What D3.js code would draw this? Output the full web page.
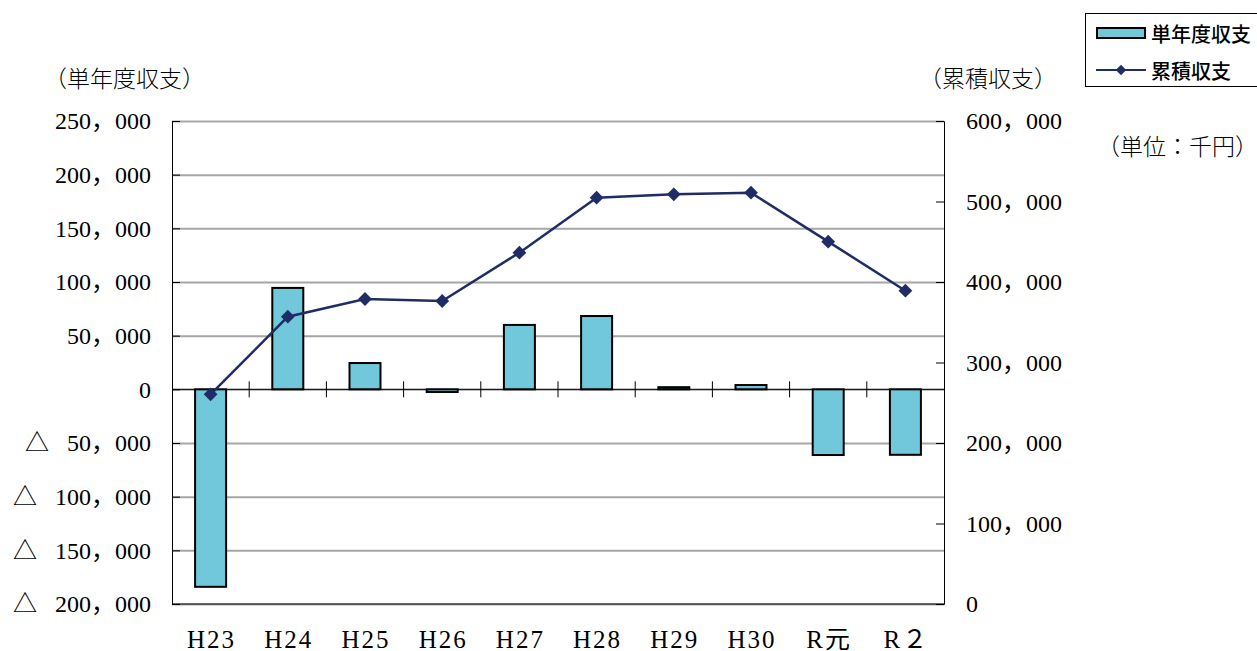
<!DOCTYPE html>
<html>
<head>
<meta charset="utf-8">
<script src="https://cdn.jsdelivr.net/npm/d3@7"></script>
<style>
  html, body { margin: 0; padding: 0; background: #fff; }
  svg { display: block; }
  .num { font-family: "Liberation Serif", "Noto Sans CJK JP", serif; font-size: 24px; fill: #000; }
  .cat { font-family: "Liberation Serif", "Noto Sans CJK JP", serif; font-size: 25px; letter-spacing: 2px; fill: #000; }
  .jp { font-family: "Noto Sans CJK JP", sans-serif; font-size: 23px; font-weight: 300; fill: #000; }
  .leg { font-family: "Noto Sans CJK JP", sans-serif; font-size: 20px; font-weight: 500; fill: #000; }
</style>
</head>
<body>
<svg id="chart" width="1257" height="651"></svg>
<script>
// Fiscal years
const categories = ["H23", "H24", "H25", "H26", "H27", "H28", "H29", "H30", "R元", "R２"];
// Single-year balance (thousand yen), left axis
const annualBalance = [-184000, 94500, 24500, -2500, 60000, 68300, 2000, 4000, -61200, -61000];
// Cumulative balance (thousand yen), right axis
const cumulativeBalance = [260500, 356900, 378900, 376400, 436400, 504700, 508900, 510900, 450100, 389200];
// Axis tick values
const leftTicks = [250000, 200000, 150000, 100000, 50000, 0, -50000, -100000, -150000, -200000];
const rightTicks = [600000, 500000, 400000, 300000, 200000, 100000, 0];

const svg = d3.select("#chart");
const plot = { left: 172, right: 944, top: 121, bottom: 604 };

const x = d3.scaleBand().domain(categories).range([plot.left, plot.right]);
const yL = d3.scaleLinear().domain([-200000, 250000]).range([plot.bottom, plot.top]);
const yR = d3.scaleLinear().domain([0, 600000]).range([plot.bottom, plot.top]);

// Full-width thousands separator; negatives carry the triangle mark
const fmtNum = v => d3.format(",")(Math.abs(v)).replace(/,/g, "，");
const fmtLeft = v => v < 0 ? "△\u2002 " + fmtNum(v) : fmtNum(v);

// Horizontal gridlines
svg.append("g")
  .attr("transform", `translate(${plot.left},0)`)
  .call(d3.axisLeft(yL).tickValues(leftTicks).tickSize(-(plot.right - plot.left)).tickFormat(""))
  .call(g => g.select(".domain").remove())
  .call(g => g.selectAll(".tick line").attr("stroke", "#a6a6a6").attr("stroke-width", 2));

// Bars
const barW = 31;
svg.append("g").selectAll("rect")
  .data(annualBalance)
  .join("rect")
  .attr("x", (d, i) => x(categories[i]) + x.bandwidth() / 2 - barW / 2)
  .attr("width", barW)
  .attr("y", d => Math.min(yL(d), yL(0)))
  .attr("height", d => Math.abs(yL(d) - yL(0)))
  .attr("fill", "#70c8da")
  .attr("stroke", "#000")
  .attr("stroke-width", 2);

// Zero line with category separators
svg.append("line")
  .attr("x1", plot.left).attr("x2", plot.right)
  .attr("y1", yL(0)).attr("y2", yL(0))
  .attr("stroke", "#000").attr("stroke-width", 1);
svg.append("g").selectAll("line")
  .data(categories.slice(1))
  .join("line")
  .attr("x1", d => x(d)).attr("x2", d => x(d))
  .attr("y1", yL(0) - 8).attr("y2", yL(0) + 8)
  .attr("stroke", "#000").attr("stroke-width", 1);

// Left axis
svg.append("g")
  .attr("transform", `translate(${plot.left},0)`)
  .call(d3.axisLeft(yL).tickValues(leftTicks).tickSize(-8).tickPadding(21).tickFormat(fmtLeft))
  .call(g => g.select(".domain").attr("stroke", "#000"))
  .call(g => g.selectAll(".tick text").attr("class", "num").attr("font-size", null).attr("font-family", null)
    .style("white-space", "pre"));

// Right axis
svg.append("g")
  .attr("transform", `translate(${plot.right},0)`)
  .call(d3.axisRight(yR).tickValues(rightTicks).tickSize(-8).tickPadding(22).tickFormat(fmtNum))
  .call(g => g.select(".domain").attr("stroke", "#000"))
  .call(g => g.selectAll(".tick text").attr("class", "num").attr("font-size", null).attr("font-family", null));

// Bottom frame
svg.append("line")
  .attr("x1", plot.left).attr("x2", plot.right)
  .attr("y1", plot.bottom).attr("y2", plot.bottom)
  .attr("stroke", "#000");

// Category labels
svg.append("g").selectAll("text")
  .data(categories)
  .join("text")
  .attr("class", "cat")
  .attr("x", d => x(d) + x.bandwidth() / 2 + 1)
  .attr("y", 639)
  .attr("text-anchor", "middle")
  .attr("dominant-baseline", "central")
  .text(d => d);

// Cumulative line with diamond markers
const lineColor = "#1f2d66";
const pts = cumulativeBalance.map((v, i) => [x(categories[i]) + x.bandwidth() / 2, yR(v)]);
svg.append("path")
  .datum(pts)
  .attr("d", d3.line())
  .attr("fill", "none")
  .attr("stroke", lineColor)
  .attr("stroke-width", 2.5);
svg.append("g").selectAll("path")
  .data(pts)
  .join("path")
  .attr("transform", d => `translate(${d[0]},${d[1]}) rotate(45)`)
  .attr("d", d3.symbol().type(d3.symbolSquare).size(95))
  .attr("fill", lineColor);

// Axis titles and unit
svg.append("text").attr("class", "jp").attr("x", 44).attr("y", 77)
  .attr("dominant-baseline", "central").text("（単年度収支）");
svg.append("text").attr("class", "jp").attr("x", 919).attr("y", 77)
  .attr("dominant-baseline", "central").text("（累積収支）");
svg.append("text").attr("class", "jp").attr("x", 1097).attr("y", 145)
  .attr("dominant-baseline", "central").text("（単位：千円）");

// Legend
const leg = svg.append("g");
leg.append("rect").attr("x", 1085.5).attr("y", 13.5).attr("width", 180).attr("height", 73)
  .attr("fill", "#fff").attr("stroke", "#000").attr("stroke-width", 1);
leg.append("rect").attr("x", 1097).attr("y", 28).attr("width", 48).attr("height", 10)
  .attr("fill", "#70c8da").attr("stroke", "#000").attr("stroke-width", 2);
leg.append("text").attr("class", "leg").attr("x", 1151).attr("y", 33)
  .attr("dominant-baseline", "central").text("単年度収支");
leg.append("line").attr("x1", 1096).attr("x2", 1146).attr("y1", 70).attr("y2", 70)
  .attr("stroke", lineColor).attr("stroke-width", 2);
leg.append("path").attr("transform", "translate(1121,70) rotate(45)")
  .attr("d", d3.symbol().type(d3.symbolSquare).size(55)).attr("fill", lineColor);
leg.append("text").attr("class", "leg").attr("x", 1151).attr("y", 70)
  .attr("dominant-baseline", "central").text("累積収支");
</script>
</body>
</html>
